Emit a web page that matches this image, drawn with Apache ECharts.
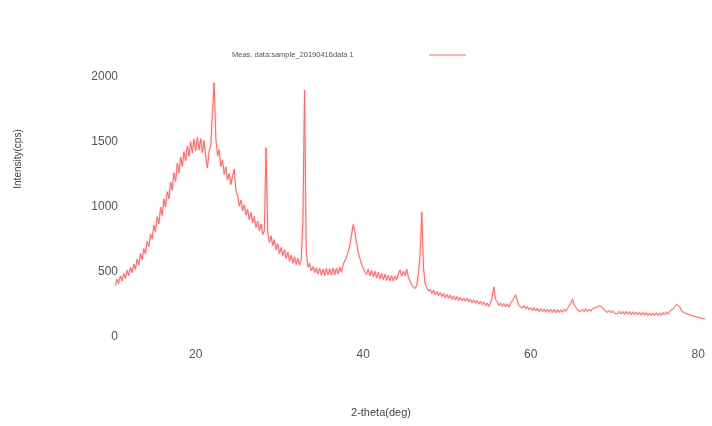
<!DOCTYPE html>
<html>
<head>
<meta charset="utf-8">
<script src="https://cdn.jsdelivr.net/npm/echarts@6/dist/echarts.min.js"></script>
<style>
html,body{margin:0;padding:0;background:#fff;}
#chart{width:712px;height:426px;}
</style>
</head>
<body>
<div id="chart"></div>
<script>
// Measurement grid: first 2-theta and step (deg)
var twoThetaStart = 10.4;
var twoThetaStep = 0.2;

// Intensity (cps), one value per step
var intensity = [
  395,445,412,470,432,488,450,512,472,535,
  495,560,520,598,552,642,595,680,640,735,
  695,792,752,860,812,925,870,998,935,1062,
  1000,1118,1065,1192,1130,1262,1198,1338,1262,1385,
  1312,1425,1355,1468,1390,1502,1415,1522,1432,1535,
  1440,1525,1420,1510,1385,1300,1430,1470,1730,1955,
  1530,1395,1440,1312,1362,1252,1308,1208,1258,1172,
  1238,1292,1128,1092,1008,1052,972,1018,938,982,
  902,958,878,928,842,892,818,868,788,818,
  1455,808,728,778,702,748,672,718,642,688,
  625,672,605,652,582,630,568,618,558,605,
  552,598,880,1900,648,538,566,508,542,494,
  532,484,528,474,522,472,528,478,525,476,
  528,478,530,484,538,498,555,570,615,650,
  705,780,865,815,725,655,605,560,550,500,
  480,522,470,512,462,505,455,498,448,490,
  440,482,436,475,432,472,430,468,440,485,
  515,468,505,472,522,458,462,400,415,372,
  400,490,640,960,530,410,395,352,368,335,
  360,325,350,318,342,310,335,300,328,298,
  322,290,316,284,312,280,305,278,300,275,
  298,270,292,262,288,258,280,252,276,248,
  270,240,262,236,258,305,385,290,272,242,
  262,235,258,232,255,230,258,272,300,325,
  282,240,252,222,242,215,235,210,228,204,
  226,200,222,196,218,194,216,192,214,190,
  214,188,212,186,210,188,210,190,214,198,
  220,215,260,290,248,238,205,220,196,214,
  194,216,196,214,198,218,204,226,222,240,
  226,228,204,214,190,206,186,202,183,198,
  178,198,176,196,174,197,174,195,172,194,
  171,192,170,190,168,189,166,187,165,185,
  164,185,165,186,164,186,166,188,170,193,
  176,199,188,214,220,250,236,232,200,207,
  186,198,176,189,166,180,158,172,151,164,
  144,158,140
];

var xTicks = [20, 40, 60, 80];
var yTicks = [0, 500, 1000, 1500, 2000];
var seriesName = 'Meas. data:sample_20190416data 1';
var xTitle = '2-theta(deg)';
var yTitle = 'Intensity(cps)';

var points = intensity.map(function (v, i) {
  return [+(twoThetaStart + i * twoThetaStep).toFixed(2), v];
});

var chart = echarts.init(document.getElementById('chart'), null, {renderer: 'canvas'});
var font = 'Liberation Sans, Arial, sans-serif';
var lineColor = '#f36c6c';
chart.setOption({
  animation: false,
  backgroundColor: '#ffffff',
  grid: {left: 112, right: 5.5, top: 77, bottom: 89, containLabel: false},
  legend: {
    data: [seriesName],
    left: 227, top: 46,
    align: 'right',
    icon: 'rect',
    itemWidth: 37, itemHeight: 1.2,
    itemGap: 0,
    formatter: function (name) { return '{t|' + name + '}'; },
    textStyle: {
      fontSize: 7.5, color: '#555', fontFamily: font,
      rich: {t: {fontSize: 7.5, color: '#555', fontFamily: font, width: 192, align: 'left'}}
    }
  },
  xAxis: {
    type: 'value', min: 10, max: 81,
    axisLine: {show: false}, axisTick: {show: false}, splitLine: {show: false},
    axisLabel: {customValues: xTicks, fontSize: 12, color: '#555', fontFamily: font, margin: 12}
  },
  yAxis: {
    type: 'value', min: 0, max: 2000, interval: 500,
    axisLine: {show: false}, axisTick: {show: false}, splitLine: {show: false},
    axisLabel: {
      customValues: yTicks, fontSize: 12, color: '#555', fontFamily: font, margin: -6,
      formatter: function (v) { return String(v); }
    }
  },
  graphic: [
    {type: 'text', x: 381, y: 413, style: {text: xTitle, align: 'center', verticalAlign: 'middle', font: '11px ' + font, fill: '#444'}},
    {type: 'text', x: 18, y: 159, rotation: Math.PI / 2, style: {text: yTitle, align: 'center', verticalAlign: 'middle', font: '10px ' + font, fill: '#444'}}
  ],
  series: [{
    name: seriesName,
    type: 'line',
    data: points,
    symbol: 'none',
    sampling: null,
    lineStyle: {color: lineColor, width: 1, shadowColor: 'rgba(243,108,108,0.55)', shadowBlur: 2},
    itemStyle: {color: lineColor}
  }]
});
</script>
</body>
</html>
